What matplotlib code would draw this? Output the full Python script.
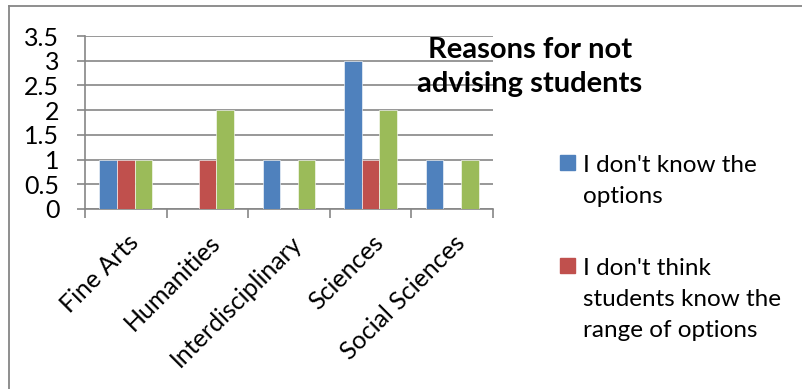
import matplotlib
matplotlib.use('Agg')
import matplotlib.pyplot as plt
from matplotlib.patches import Rectangle
from matplotlib.lines import Line2D
import numpy as np

# dados do gráfico
categories = ['Fine Arts', 'Humanities', 'Interdisciplinary', 'Sciences', 'Social Sciences']
series_names = ["I don't know the\noptions",
                "I don't think\nstudents know the\nrange of options",
                None]  # legenda da terceira série fica fora da imagem
dont_know = [1, 0, 1, 3, 1]
dont_think = [1, 1, 0, 1, 0]
third_series = [1, 2, 1, 2, 1]
y_ticks = [0, 0.5, 1, 1.5, 2, 2.5, 3, 3.5]
y_tick_labels = ['0', '0.5', '1', '1.5', '2', '2.5', '3', '3.5']
title = 'Reasons for not\nadvising students'

colors = ['#4F81BD', '#C0504D', '#9BBB59']
grid_gray = '#868686'

plt.rcParams['font.family'] = ['Lato', 'DejaVu Sans']

W, H = 803, 389
fig = plt.figure(figsize=(W / 100, H / 100), dpi=100)
fig.patch.set_facecolor('white')


def fx(px):
    return px / W


def fy(py):
    return 1 - py / H


ax = fig.add_axes([fx(85), fy(209), fx(493) - fx(85), fy(36) - fy(209)])

x = np.arange(len(categories))
bar_w = 0.215
for i, vals in enumerate([dont_know, dont_think, third_series]):
    ax.bar(x + (i - 1) * bar_w, vals, width=bar_w, color=colors[i],
           edgecolor='white', linewidth=0.4, zorder=3)

ax.set_xlim(-0.5, len(categories) - 0.5)
ax.set_ylim(0, 3.5)
ax.set_yticks(y_ticks)
ax.set_yticklabels(y_tick_labels, fontsize=18)
ax.yaxis.grid(True, color=grid_gray, linewidth=1.2, zorder=0)
ax.tick_params(axis='y', length=6, width=1.2, color=grid_gray, pad=12.5)

# marcas do eixo x entre as categorias
ax.set_xticks(np.arange(len(categories) + 1) - 0.5)
ax.set_xticklabels([])
ax.tick_params(axis='x', length=6.5, width=1.2, color=grid_gray)
for i, cat in enumerate(categories):
    ax.annotate(cat, xy=(i, 0), xycoords=('data', 'axes fraction'),
                xytext=(9, -30), textcoords='offset pixels',
                rotation=45, rotation_mode='anchor', ha='right', va='center',
                fontsize=18)

for side in ['top', 'right']:
    ax.spines[side].set_visible(False)
ax.spines['left'].set_color(grid_gray)
ax.spines['bottom'].set_color(grid_gray)
ax.spines['left'].set_linewidth(1.2)
ax.spines['bottom'].set_linewidth(1.2)

# título
fig.text(fx(530), fy(67), title, ha='center', va='center', fontsize=21,
         fontweight='bold', linespacing=1.4)

# legenda desenhada à mão (quadrado alinhado com a primeira linha)
leg_first = [170, 273]
leg_last = [203, 337]
for i, name in enumerate(series_names):
    if name is None:
        continue
    fig.patches.append(Rectangle((fx(560), fy(leg_first[i])), fx(15), 15 / H,
                                 transform=fig.transFigure, color=colors[i]))
    fig.text(fx(583), fy(leg_last[i]), name, ha='left', va='baseline',
             fontsize=17.5, linespacing=1.6)

# moldura do gráfico
fig.add_artist(Line2D([fx(8.5), 1], [fy(6), fy(6)], color=grid_gray, lw=1.3))
fig.add_artist(Line2D([fx(8.5), fx(8.5)], [fy(6), 0], color=grid_gray, lw=1.3))

fig.savefig('out.png', dpi=100)
